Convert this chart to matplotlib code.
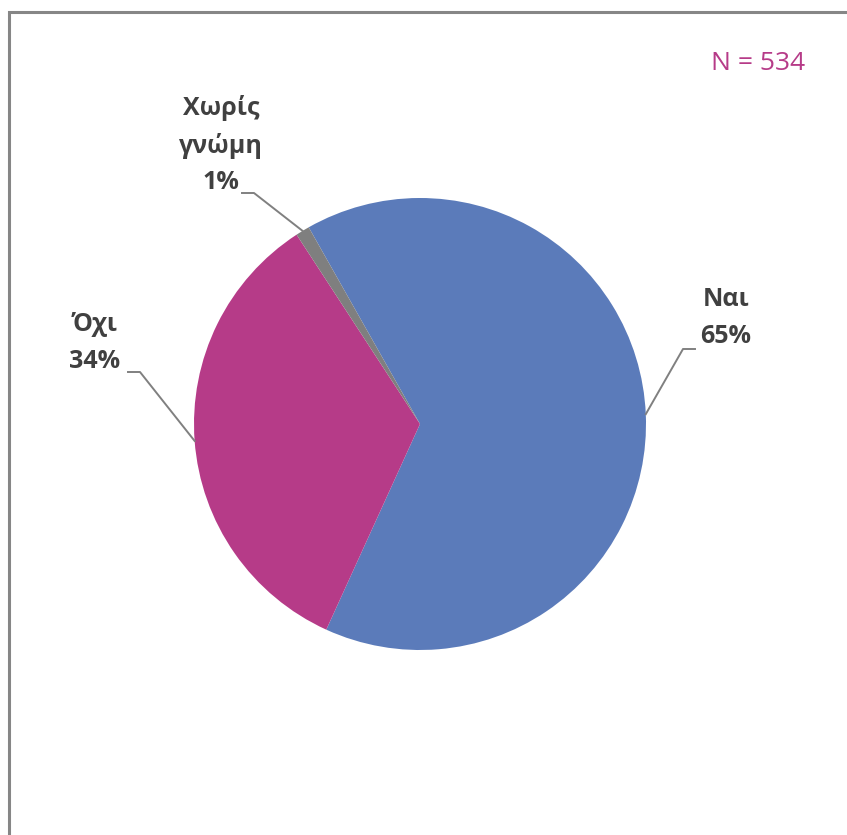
import numpy as np
import matplotlib
matplotlib.use("Agg")
import matplotlib.pyplot as plt

plt.rcParams['font.family'] = ['Open Sans', 'DejaVu Sans']

# δεδομένα
labels = ["Ναι", "Όχι", "Χωρίς\nγνώμη"]
values = [65, 34, 1]
colors = ["#5B7BBA", "#B63B88", "#7F7F7F"]
n_total = 534

W, H = 847, 835
fig = plt.figure(figsize=(W / 100, H / 100), dpi=100)
ax = fig.add_axes([0, 0, 1, 1])

# πίτα σε συντεταγμένες pixel (y προς τα πάνω)
cx, cy, r = 420, H - 424, 226
wedges, _ = ax.pie(values, colors=colors, startangle=119.5, counterclock=False,
                   center=(cx, cy), radius=r, frame=True)

ax.set_xlim(0, W)
ax.set_ylim(0, H)
ax.set_aspect('auto')
ax.axis('off')

# πλαίσιο
ax.plot([9, 9, W], [0, H - 12, H - 12], color="#868686", lw=2.2,
        solid_joinstyle='miter')

# ετικέτες με γραμμές οδηγούς
elbows = [((683, 349), (695, 349)), ((140, 372), (128, 372)), ((254, 193), (242, 193))]
text_pos = [(726, 318), (95, 343), (221, 145)]
for w, lab, v, (e1, e2), tp in zip(wedges, labels, values, elbows, text_pos):
    ang = np.deg2rad((w.theta1 + w.theta2) / 2)
    x0 = cx + r * np.cos(ang)
    y0 = cy + r * np.sin(ang)
    ax.plot([x0, e1[0], e2[0]], [y0, H - e1[1], H - e2[1]], color="#808080", lw=1.4)
    ax.text(tp[0], H - tp[1], f"{lab}\n{v}%", ha='center', va='center',
            fontsize=18, fontweight='bold', color="#404040", linespacing=1.6)

ax.text(758, H - 63, f"N = {n_total}", ha='center', va='center', fontsize=19,
        color="#B63B88")

fig.savefig("out.png", dpi=100)
